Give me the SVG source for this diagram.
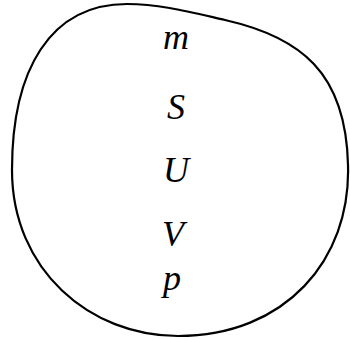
<svg xmlns="http://www.w3.org/2000/svg" width="350" height="340" viewBox="0 0 350 340">
<style>
.lbl{font-family:"Liberation Serif","Times New Roman",serif;font-style:italic;font-size:36px;fill:#000;text-anchor:middle}
</style>
<rect width="350" height="340" fill="#fff"/>
<g id="blob">
<path d="M127 4 C160 4 190 12 225 20 C300 37 346 72 348 165 C351 260 285 336 178 336 C90 336 12 270 12 170 C12 70 50 4 127 4 Z" fill="none" stroke="#000" stroke-width="2.2"/>
</g>
<g id="labels">
<text class="lbl" x="176" y="49">m</text>
<text class="lbl" x="176" y="119">S</text>
<text class="lbl" x="176" y="182">U</text>
<text class="lbl" x="173" y="246">V</text>
<text class="lbl" x="172" y="290">p</text>
</g>
</svg>
